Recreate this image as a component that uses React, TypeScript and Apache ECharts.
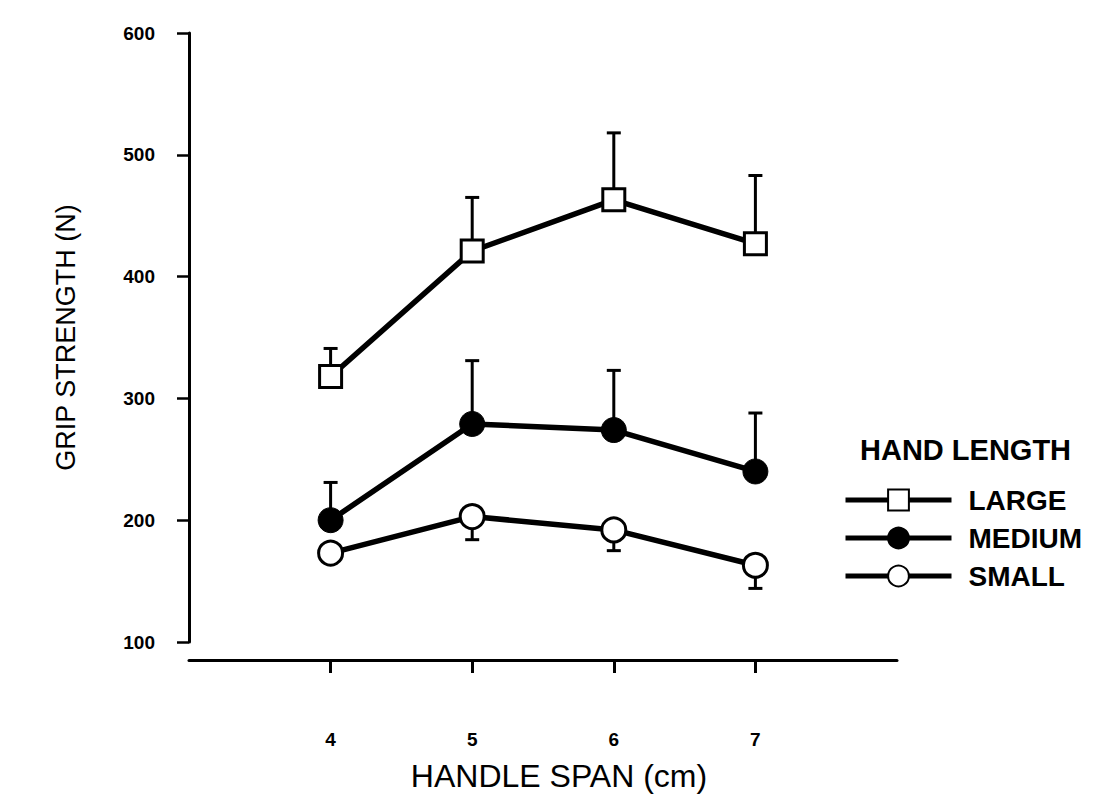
import React, { useEffect, useRef } from "react";
import * as echarts from "echarts";

const handleSpan = [4, 5, 6, 7];
const largeMean = [318, 421, 463, 427];
const largeErrTop = [341, 465, 518, 483];
const mediumMean = [200, 279, 274, 240];
const mediumErrTop = [231, 331, 323, 288];
const smallMean = [173, 203, 192, 163];
const smallErrBottom = [168, 184, 175, 144];
const yTicks = [100, 200, 300, 400, 500, 600];

const FONT = "'Liberation Sans', Arial, Helvetica, sans-serif";

function pairs(ys: number[]) {
  return handleSpan.map((x, i) => [x, ys[i]]);
}
function errData(mean: number[], end: number[]) {
  return handleSpan.map((x, i) => [x, mean[i], end[i]]);
}

const errorRender = (params: any, api: any) => {
  const x = api.value(0);
  const p0 = api.coord([x, api.value(1)]);
  const p1 = api.coord([x, api.value(2)]);
  const half = 7;
  const st = { stroke: "#000", lineWidth: 3 };
  return {
    type: "group",
    children: [
      { type: "line", shape: { x1: p0[0], y1: p0[1], x2: p1[0], y2: p1[1] }, style: st },
      { type: "line", shape: { x1: p1[0] - half, y1: p1[1], x2: p1[0] + half, y2: p1[1] }, style: st },
    ],
  };
};

export default function App() {
  const ref = useRef<HTMLDivElement>(null);
  useEffect(() => {
    if (!ref.current) return;
    const chart = echarts.init(ref.current, undefined, { renderer: "svg" });
    const lineStyle = { color: "#000", width: 5.5 };
    chart.setOption({
      animation: false,
      backgroundColor: "#fff",
      textStyle: { fontFamily: FONT, color: "#000" },
      grid: { left: 189, right: 197, top: 33, bottom: 167 },
      graphic: [
        {
          type: "text",
          left: 860,
          top: 435,
          style: { text: "HAND LENGTH", font: `bold 29px ${FONT}`, fill: "#000" },
        },
      ],
      legend: {
        orient: "vertical",
        left: 838,
        top: 481,
        itemWidth: 106,
        itemHeight: 26,
        itemGap: 10,
        data: ["LARGE", "MEDIUM", "SMALL"],
        lineStyle: { width: 5, color: "#000" },
        textStyle: { fontFamily: FONT, fontSize: 28, fontWeight: "bold", color: "#000", padding: [0, 0, 0, 12] },
        inactiveColor: "#000",
        selectedMode: false,
      },
      xAxis: {
        type: "value",
        min: 3,
        max: 8,
        interval: 1,
        offset: 18,
        name: "HANDLE SPAN (cm)",
        nameLocation: "middle",
        nameGap: 100,
        nameTextStyle: { fontFamily: FONT, fontSize: 32, color: "#000", padding: [0, 0, 0, 32] },
        splitLine: { show: false },
        axisLine: { show: true, onZero: false, lineStyle: { color: "#000", width: 3 } },
        axisTick: { show: true, length: 13, lineStyle: { color: "#000", width: 3 }, customValues: handleSpan },
        axisLabel: {
          customValues: handleSpan,
          margin: 70,
          fontFamily: FONT,
          fontSize: 19,
          fontWeight: "bold",
          color: "#000",
        },
      },
      yAxis: {
        type: "value",
        min: 100,
        max: 600,
        interval: 100,
        name: "GRIP STRENGTH (N)",
        nameLocation: "middle",
        nameGap: 110,
        nameTextStyle: { fontFamily: FONT, fontSize: 27, color: "#000" },
        splitLine: { show: false },
        axisLine: { show: true, lineStyle: { color: "#000", width: 3 } },
        axisTick: { show: true, length: 12, lineStyle: { color: "#000", width: 2.5 }, customValues: yTicks },
        axisLabel: {
          customValues: yTicks,
          margin: 34,
          fontFamily: FONT,
          fontSize: 19,
          fontWeight: "bold",
          color: "#000",
        },
      },
      series: [
        { type: "custom", renderItem: errorRender, data: errData(largeMean, largeErrTop), z: 1, silent: true },
        { type: "custom", renderItem: errorRender, data: errData(mediumMean, mediumErrTop), z: 1, silent: true },
        { type: "custom", renderItem: errorRender, data: errData(smallMean, smallErrBottom), z: 1, silent: true },
        {
          name: "LARGE",
          type: "line",
          data: pairs(largeMean),
          z: 3,
          symbol: "rect",
          symbolSize: 22,
          lineStyle,
          itemStyle: { color: "#fff", borderColor: "#000", borderWidth: 3 },
        },
        {
          name: "MEDIUM",
          type: "line",
          data: pairs(mediumMean),
          z: 3,
          symbol: "circle",
          symbolSize: 25,
          lineStyle,
          itemStyle: { color: "#000", borderColor: "#000", borderWidth: 1 },
        },
        {
          name: "SMALL",
          type: "line",
          data: pairs(smallMean),
          z: 3,
          symbol: "circle",
          symbolSize: 24,
          lineStyle,
          itemStyle: { color: "#fff", borderColor: "#000", borderWidth: 3 },
        },
      ],
    });
    return () => chart.dispose();
  }, []);
  return <div ref={ref} style={{ position: "fixed", left: 0, top: 0, width: 1094, height: 809 }} />;
}
